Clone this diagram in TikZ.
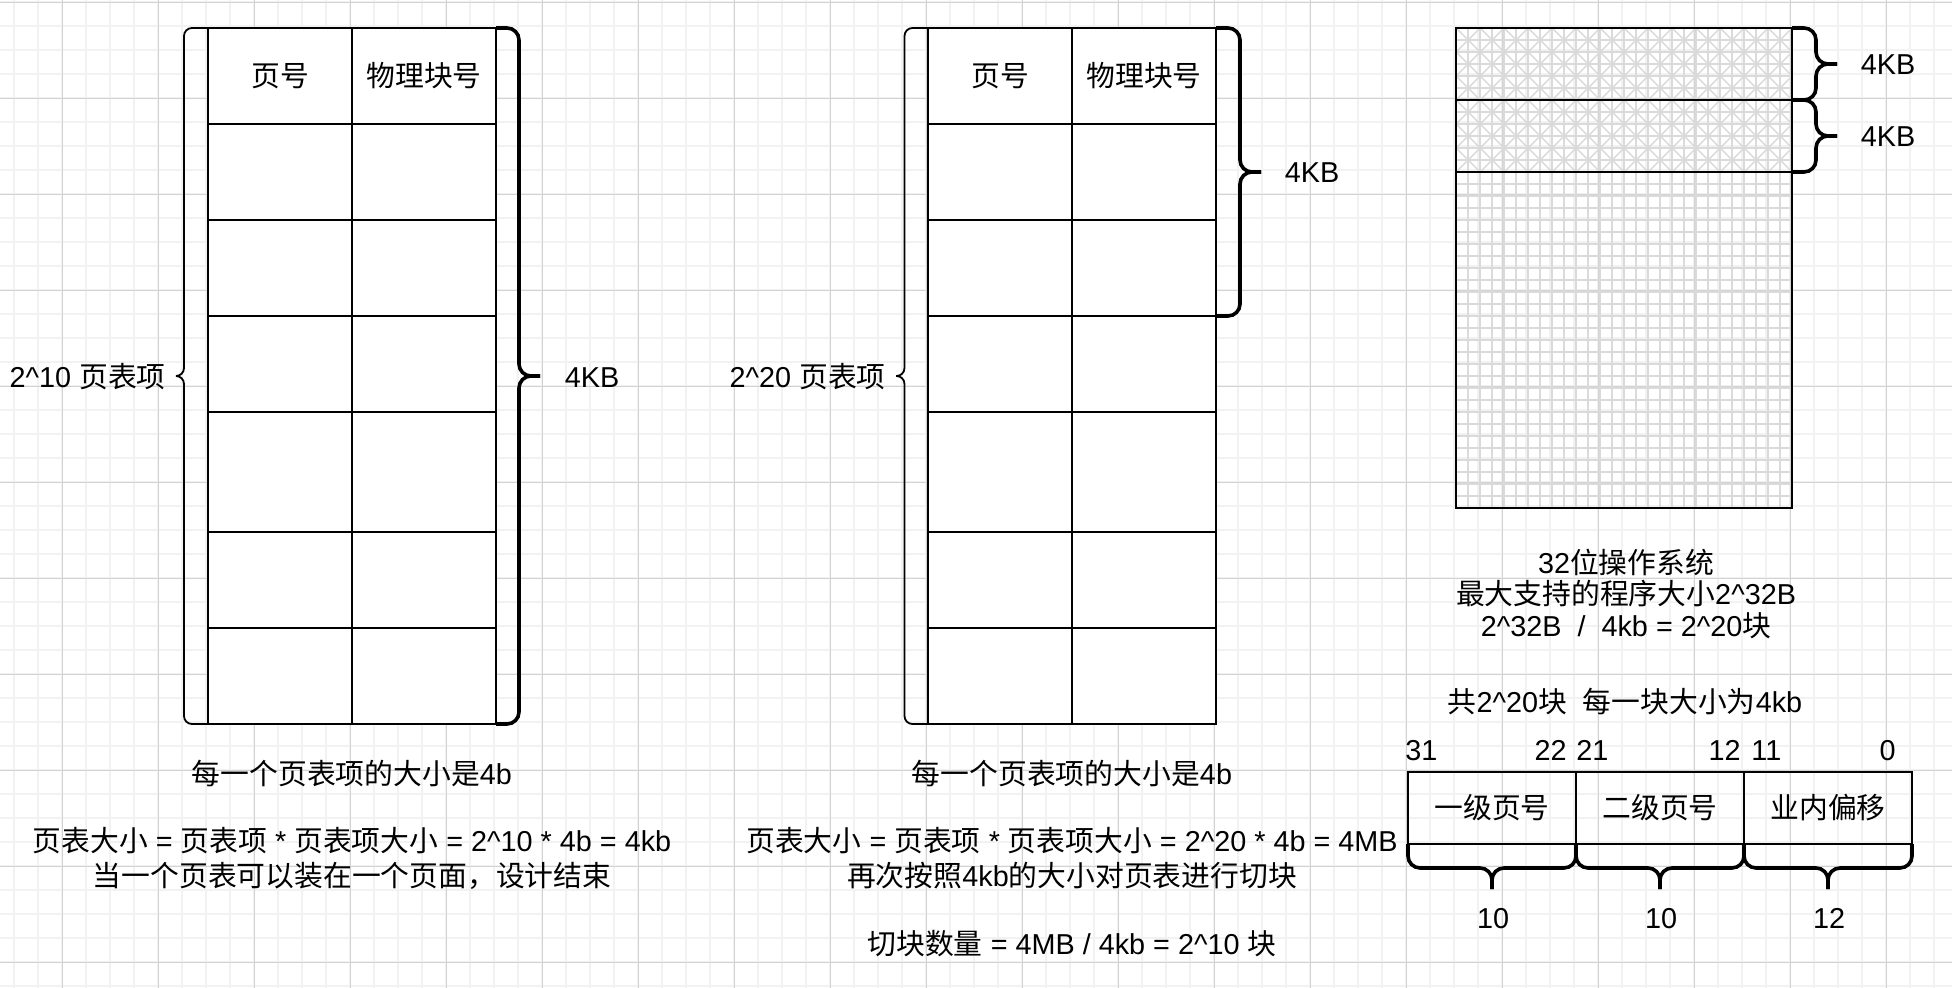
\documentclass[tikz,border=0pt]{standalone}
\usepackage{fontspec}
\setmainfont{Liberation Sans}
\newfontfamily\cjk{Noto Sans CJK SC}
\newcommand\zh[1]{{\cjk #1}}
\newcommand\hatc{\textasciicircum}
\definecolor{gridminor}{HTML}{F2F2F2}
\definecolor{gridmajor}{HTML}{D2D2D2}
\definecolor{patcol}{HTML}{DADADA}
% style, xend, xvert, xtip, ytop, ybot
\newcommand\mybraceV[6]{%
  \draw[#1] (#2,#5) -- (#3,#5) -- (#3,{(#5+#6)/2}) -- (#4,{(#5+#6)/2});
  \draw[#1] (#4,{(#5+#6)/2}) -- (#3,{(#5+#6)/2}) -- (#3,#6) -- (#2,#6);}
% style, yend, yhor, ytip, xleft, xright
\newcommand\mybraceH[6]{%
  \draw[#1] (#5,#2) -- (#5,#3) -- ({(#5+#6)/2},#3) -- ({(#5+#6)/2},#4);
  \draw[#1] (#6,#2) -- (#6,#3) -- ({(#5+#6)/2},#3) -- ({(#5+#6)/2},#4);}
\begin{document}
\begin{tikzpicture}[x=0.5pt,y=-0.5pt,
  every node/.style={inner sep=0pt, text height=13.5pt, text depth=2.9pt,
    font=\fontsize{14.4pt}{16pt}\selectfont},
  tbl/.style={line width=0.8pt, draw=black},
  thinbrace/.style={line width=0.9pt, rounded corners=4pt},
  thickbrace/.style={line width=1.8pt, rounded corners=6pt},
  pat/.style={draw=patcol, line width=0.7pt},
  minorline/.style={draw=gridminor, line width=1pt},
  majorline/.style={draw=gridmajor, line width=0.5pt}]
\useasboundingbox (0,0) rectangle (1952,988);
\fill[white] (0,0) rectangle (1952,988);
% background grid
\foreach \i in {0,...,80} \draw[minorline] ({14.3+24*\i},0) -- ({14.3+24*\i},988);
\foreach \j in {0,...,41} \draw[minorline] (0,{2.3+24*\j}) -- (1952,{2.3+24*\j});
\foreach \i in {0,...,19} \draw[majorline] ({62.3+96*\i},0) -- ({62.3+96*\i},988);
\foreach \j in {0,...,10} \draw[majorline] (0,{2.3+96*\j}) -- (1952,{2.3+96*\j});

% ---------- table 1 ----------
\draw[tbl, fill=white] (208,28) rectangle (496,724);
\foreach \y in {124,220,316,412,532,628} \draw[tbl] (208,\y) -- (496,\y);
\draw[tbl] (352,28) -- (352,724);
\node (t1a) at (280,76) {\zh{页号}};
\node (t1b) at (424,76) {\zh{物理块号}};
\mybraceV{thinbrace}{208}{184}{176}{28}{724}
\mybraceV{thickbrace}{496}{519}{540}{28}{724}
\node[anchor=east] (t1n) at (166,377) {2\hatc10 \zh{页表项}};
\node (t1k) at (592,377) {4KB};
\node (t1s1) at (352,774) {\zh{每一个页表项的大小是}4b};
\node (t1s2) at (352,841) {\zh{页表大小} = \zh{页表项} * \zh{页表项大小} = 2\hatc10 * 4b = 4kb};
\node (t1s3) at (352,875.5) {\zh{当一个页表可以装在一个页面，设计结束}};

% ---------- table 2 ----------
\draw[tbl, fill=white] (928,28) rectangle (1216,724);
\foreach \y in {124,220,316,412,532,628} \draw[tbl] (928,\y) -- (1216,\y);
\draw[tbl] (1072,28) -- (1072,724);
\node (t2a) at (1000,76) {\zh{页号}};
\node (t2b) at (1144,76) {\zh{物理块号}};
\mybraceV{thinbrace}{928}{904.5}{896}{28}{724}
\mybraceV{thickbrace}{1216}{1240}{1261}{28}{316}
\node[anchor=east] (t2n) at (886,377) {2\hatc20 \zh{页表项}};
\node (t2k) at (1312,172) {4KB};
\node (t2s1) at (1072,774) {\zh{每一个页表项的大小是}4b};
\node (t2s2) at (1072,841) {\zh{页表大小} = \zh{页表项} * \zh{页表项大小} = 2\hatc20 * 4b = 4MB};
\node (t2s3) at (1072,875.5) {\zh{再次按照}4kb\zh{的大小对页表进行切块}};
\node (t2s4) at (1072,944) {\zh{切块数量} = 4MB / 4kb = 2\hatc10 \zh{块}};

% ---------- address space rectangle ----------
\begin{scope}
  \clip (1456,28) rectangle (1792,172);
  \foreach \x in {1456,1468,...,1792} \draw[pat] (\x,28) -- (\x,172);
  \foreach \y in {28,40,...,172} \draw[pat] (1456,\y) -- (1792,\y);
  \foreach \k in {-7,...,15} {
    \draw[pat] ({1456+24*\k},28) -- ++(144,144);
    \draw[pat] ({1456+24*\k},172) -- ++(144,-144);}
\end{scope}
\begin{scope}
  \clip (1456,172) rectangle (1792,508);
  \foreach \x in {1456,1468,...,1792} \draw[pat] (\x,172) -- (\x,508);
  \foreach \y in {172,184,...,508} \draw[pat] (1456,\y) -- (1792,\y);
\end{scope}
\draw[line width=1.25pt] (1456,28) rectangle (1792,508);
\draw[line width=1.25pt] (1456,100) -- (1792,100);
\draw[line width=1.25pt] (1456,172) -- (1792,172);
\mybraceV{thickbrace}{1792}{1816}{1837}{28}{100}
\mybraceV{thickbrace}{1792}{1816}{1837}{100}{172}
\node (rk1) at (1888,64) {4KB};
\node (rk2) at (1888,136) {4KB};
\node (rl1) at (1626,563) {32\zh{位操作系统}};
\node (rl2) at (1626,594) {\zh{最大支持的程序大小}2\hatc32B};
\node (rl3) at (1626,626) {2\hatc32B~ /~ 4kb = 2\hatc20\zh{块}};
\node (rl4) at (1625,702) {\zh{共}2\hatc20\zh{块}~ \zh{每一块大小为}4kb};

% ---------- address format ----------
\draw[tbl, line width=1pt] (1408,772) rectangle (1912,844);
\draw[tbl, line width=1pt] (1576,772) -- (1576,844);
\draw[tbl, line width=1pt] (1744,772) -- (1744,844);
\node (f1) at (1492,808) {\zh{一级页号}};
\node (f2) at (1660,808) {\zh{二级页号}};
\node (f3) at (1828,808) {\zh{业内偏移}};
\node[anchor=west] (b31) at (1405,750) {31};
\node[anchor=east] (b22) at (1567,750) {22};
\node[anchor=west] (b21) at (1576,750) {21};
\node[anchor=east] (b12) at (1741,750) {12};
\node[anchor=west] (b11) at (1751,750) {11};
\node[anchor=east] (b0) at (1896,750) {0};
\mybraceH{thickbrace}{844}{868}{889}{1408}{1576}
\mybraceH{thickbrace}{844}{868}{889}{1576}{1744}
\mybraceH{thickbrace}{844}{868}{889}{1744}{1912}
\node (w1) at (1493,918) {10};
\node (w2) at (1661,918) {10};
\node (w3) at (1829,918) {12};
\end{tikzpicture}
\end{document}
